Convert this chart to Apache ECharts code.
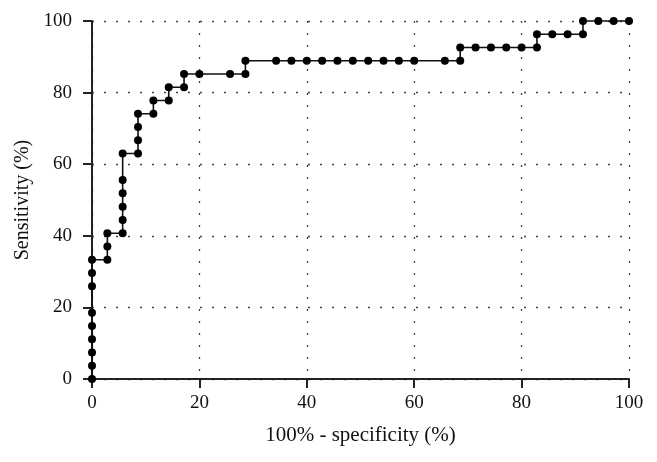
<!DOCTYPE html>
<html><head><meta charset="utf-8">
<script src="https://cdn.jsdelivr.net/npm/echarts@6/dist/echarts.min.js"></script>
<style>html,body{margin:0;padding:0;background:#fff}#c{width:657px;height:462px}</style>
</head><body><div id="c"></div>
<script>
const fpr = [0,0,0,0,0,0,0,0,0,2.86,2.86,2.86,5.71,5.71,5.71,5.71,5.71,5.71,8.57,8.57,8.57,8.57,11.43,11.43,14.29,14.29,17.14,17.14,20,25.71,28.57,28.57,34.29,37.14,40,42.86,45.71,48.57,51.43,54.29,57.14,60,65.71,68.57,68.57,71.43,74.29,77.14,80,82.86,82.86,85.71,88.57,91.43,91.43,94.29,97.14,100];
const tpr = [0,3.7,7.4,11.1,14.8,18.5,25.9,29.6,33.3,33.3,37.0,40.7,40.7,44.4,48.1,51.9,55.6,63.0,63.0,66.7,70.4,74.1,74.1,77.8,77.8,81.5,81.5,85.2,85.2,85.2,85.2,88.9,88.9,88.9,88.9,88.9,88.9,88.9,88.9,88.9,88.9,88.9,88.9,88.9,92.6,92.6,92.6,92.6,92.6,92.6,96.3,96.3,96.3,96.3,100,100,100,100];
const xTitle = '100% - specificity (%)';
const yTitle = 'Sensitivity (%)';

const font = 'Liberation Serif';
const chart = echarts.init(document.getElementById('c'));
const axisCommon = {
  min: 0, max: 100, interval: 20,
  axisLine: {show: true, lineStyle: {color: '#222', width: 2}},
  axisTick: {show: true, length: 9, lineStyle: {color: '#222', width: 2}},
  axisLabel: {color: '#111', fontFamily: font, fontSize: 19},
  splitLine: {show: true, lineStyle: {color: '#444', width: 1.3, type: [2, 10]}},
  nameLocation: 'middle',
  nameTextStyle: {color: '#111', fontFamily: font, fontSize: 20}
};
chart.setOption({
  animation: false,
  grid: {left: 92, right: 28, top: 21, bottom: 83},
  xAxis: Object.assign({}, axisCommon, {type: 'value', name: xTitle, nameGap: 46,
    nameTextStyle: Object.assign({}, axisCommon.nameTextStyle, {fontSize: 21}),
    axisLabel: Object.assign({}, axisCommon.axisLabel, {margin: 15})}),
  yAxis: Object.assign({}, axisCommon, {type: 'value', name: yTitle, nameGap: 56,
    axisLabel: Object.assign({}, axisCommon.axisLabel, {margin: 20})}),
  series: [{
    type: 'line',
    data: fpr.map((x, i) => [x, tpr[i]]),
    symbol: 'circle', symbolSize: 8,
    lineStyle: {color: '#111', width: 1.6},
    itemStyle: {color: '#000'},
    clip: false
  }]
});
</script></body></html>
